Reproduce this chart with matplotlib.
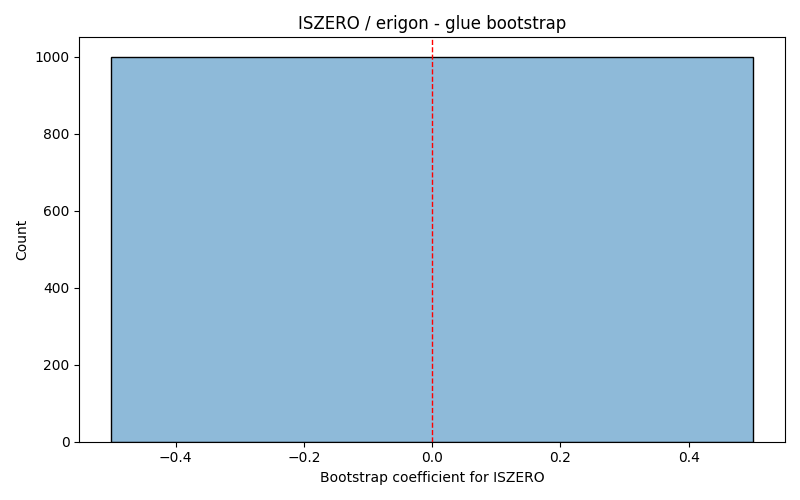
import numpy as np
import matplotlib
matplotlib.use('Agg')
import matplotlib.pyplot as plt

# histogram of bootstrap coefficients (all samples were zero -> one bin)
bin_edges = [-0.5, 0.5]
counts = [1000]
ref_value = 0.0
feature = 'ISZERO'

fig, ax = plt.subplots(figsize=(8, 5), dpi=100)
lefts = np.array(bin_edges[:-1])
widths = np.diff(bin_edges)
ax.bar(lefts, counts, width=widths, align='edge',
       color='#1f77b4', alpha=0.5, edgecolor='none')
ax.bar(lefts, counts, width=widths, align='edge',
       fill=False, edgecolor='black', linewidth=1)
ax.axvline(ref_value, color='red', linestyle='--', linewidth=1)

ax.set_xlabel(f'Bootstrap coefficient for {feature}')
ax.set_ylabel('Count')
ax.set_title(f'{feature} / erigon - glue bootstrap')
plt.tight_layout()
plt.savefig('out.png')
